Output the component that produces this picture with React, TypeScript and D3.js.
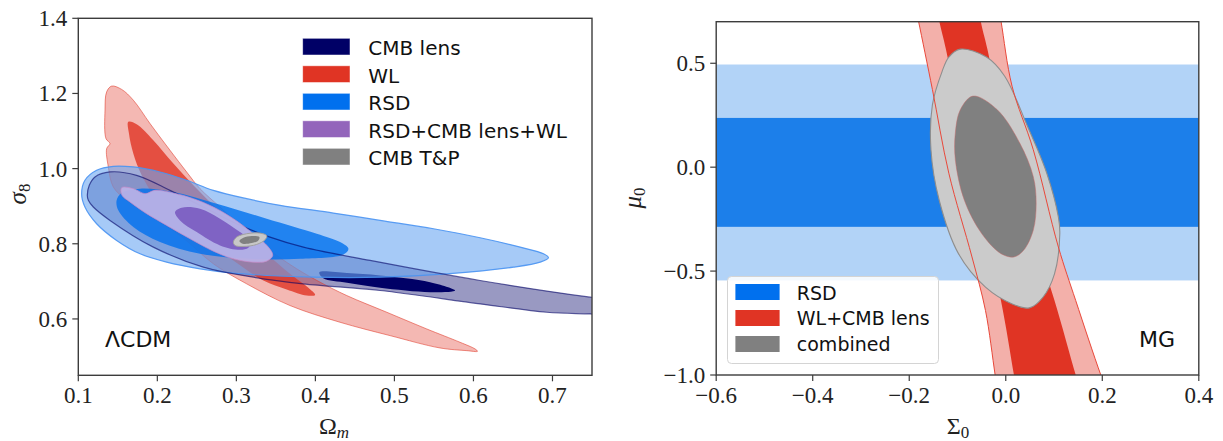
import React from 'react';
import * as d3 from 'd3';

type P = [number, number];

// ---------- Left panel (LCDM): Omega_m vs sigma_8 ----------
const leftXTicks = [0.1, 0.2, 0.3, 0.4, 0.5, 0.6, 0.7];
const leftYTicks = [0.6, 0.8, 1.0, 1.2, 1.4];

const cmbLensOuter: P[] = [
  [0.1114, 0.9289], [0.1139, 0.9556], [0.1211, 0.9778], [0.1401, 0.9911], [0.1738, 0.9822],
  [0.2160, 0.9422], [0.2582, 0.8978], [0.3004, 0.8533], [0.3426, 0.8178], [0.3848, 0.7911],
  [0.4692, 0.7556], [0.6084, 0.7022], [0.7477, 0.6578], [0.8025, 0.6444], [0.8025, 0.6089],
  [0.7477, 0.6133], [0.6928, 0.6178], [0.6084, 0.6400], [0.4819, 0.6756], [0.3848, 0.6933],
  [0.3215, 0.7111], [0.2582, 0.7378], [0.1949, 0.7911], [0.1401, 0.8622], [0.1190, 0.8978],
  [0.1127, 0.9156],
];
const cmbLensInner: P[] = [
  [0.405, 0.724], [0.440, 0.722], [0.4819, 0.7156], [0.5451, 0.6978],
  [0.5768, 0.6756], [0.5451, 0.6711], [0.4819, 0.6827], [0.440, 0.696], [0.410, 0.708],
];
const wlOuter: P[] = [
  [0.1422, 1.2196], [0.1549, 1.2107], [0.1696, 1.1822], [0.1907, 1.1200], [0.2160, 1.0489],
  [0.2371, 0.9911], [0.2540, 0.9467], [0.2793, 0.8978], [0.3089, 0.8400], [0.3426, 0.7822],
  [0.3764, 0.7333], [0.4059, 0.6978], [0.4397, 0.6622], [0.4903, 0.6178], [0.5409, 0.5733],
  [0.5831, 0.5378], [0.6021, 0.5200], [0.6051, 0.5138], [0.5916, 0.5156], [0.5578, 0.5227],
  [0.4945, 0.5556], [0.4312, 0.5911], [0.3679, 0.6356], [0.3131, 0.6933], [0.2709, 0.7467],
  [0.2287, 0.8222], [0.1865, 0.8800], [0.1612, 0.9156], [0.1443, 0.9511], [0.1380, 1.0044],
  [0.1359, 1.0533], [0.1401, 1.0667], [0.1350, 1.0800], [0.1338, 1.1556], [0.1359, 1.2044],
];
const wlInner: P[] = [
  [0.1633, 1.1244], [0.1738, 1.1182], [0.1949, 1.0756], [0.2203, 1.0133], [0.2456, 0.9556],
  [0.2709, 0.9022], [0.3046, 0.8356], [0.3384, 0.7733], [0.3679, 0.7200], [0.3911, 0.6827],
  [0.3996, 0.6640], [0.3890, 0.6622], [0.3637, 0.6782], [0.3342, 0.7022], [0.2962, 0.7556],
  [0.2582, 0.8133], [0.2245, 0.8667], [0.1970, 0.9244], [0.1802, 0.9822], [0.1696, 1.0400],
  [0.1641, 1.0933],
];
const rsdOuter: P[] = [
  [0.1042, 0.9333], [0.1084, 0.9689], [0.1232, 0.9956], [0.1443, 1.0062], [0.1696, 1.0044],
  [0.2034, 0.9911], [0.2371, 0.9689], [0.2709, 0.9422], [0.3131, 0.9200], [0.3553, 0.9022],
  [0.4228, 0.8818], [0.4819, 0.8622], [0.5494, 0.8400], [0.6084, 0.8160], [0.6591, 0.7911],
  [0.6886, 0.7733], [0.6949, 0.7627], [0.6844, 0.7511], [0.6506, 0.7378], [0.5662, 0.7200],
  [0.4819, 0.7111], [0.3975, 0.7111], [0.3384, 0.7156], [0.2962, 0.7218], [0.2540, 0.7333],
  [0.2118, 0.7511], [0.1781, 0.7733], [0.1485, 0.8089], [0.1232, 0.8533], [0.1084, 0.8978],
];
const rsdInner: P[] = [
  [0.1485, 0.9156], [0.1549, 0.9351], [0.1781, 0.9467], [0.2203, 0.9378], [0.2751, 0.9067],
  [0.3384, 0.8667], [0.4017, 0.8267], [0.4312, 0.8044], [0.4418, 0.7867], [0.4354, 0.7716],
  [0.3806, 0.7600], [0.3173, 0.7600], [0.2540, 0.7733], [0.2034, 0.8044], [0.1696, 0.8444],
  [0.1506, 0.8889],
];
const combOuter: P[] = [
  [0.1549, 0.9493], [0.1696, 0.9467], [0.1844, 0.9333], [0.1970, 0.9422], [0.2203, 0.9351],
  [0.2456, 0.9200], [0.2709, 0.8978], [0.2962, 0.8667], [0.3215, 0.8267], [0.3405, 0.7911],
  [0.3460, 0.7689], [0.3384, 0.7538], [0.3215, 0.7511], [0.2962, 0.7600], [0.2709, 0.7804],
  [0.2414, 0.8133], [0.2118, 0.8489], [0.1865, 0.8800], [0.1654, 0.9111], [0.1553, 0.9289],
];
const combInner: P[] = [
  [0.2224, 0.8844], [0.2308, 0.8960], [0.2540, 0.8933], [0.2793, 0.8667], [0.3046, 0.8311],
  [0.3173, 0.8089], [0.3152, 0.7893], [0.3046, 0.7840], [0.2793, 0.7956], [0.2498, 0.8311],
  [0.2287, 0.8622],
];
const cmbTPOuter: P[] = [
  [0.2962, 0.8044], [0.3004, 0.8178], [0.3131, 0.8267], [0.3300, 0.8284], [0.3384, 0.8213],
  [0.3363, 0.8107], [0.3257, 0.7982], [0.3089, 0.7929], [0.2983, 0.7956],
];
const cmbTPInner: P[] = [
  [0.3038, 0.8071], [0.3089, 0.8160], [0.3194, 0.8204], [0.3291, 0.8178], [0.3278, 0.8089],
  [0.3194, 0.8018], [0.3080, 0.8000],
];
const leftLegendLabels = ['CMB lens', 'WL', 'RSD', 'RSD+CMB lens+WL', 'CMB T&P'];

// ---------- Right panel (MG): Sigma_0 vs mu_0 ----------
const rightXTicks = [-0.6, -0.4, -0.2, 0.0, 0.2, 0.4];
const rightYTicks = [-1.0, -0.5, 0.0, 0.5];
const rsdBandOuter: P = [-0.545, 0.494];
const rsdBandInner: P = [-0.287, 0.237];
const wlBandOuterLeft: P[] = [
  [-0.194, 0.85], [-0.181, 0.705], [-0.152, 0.374], [-0.118, -0.029], [-0.070, -0.432],
  [-0.042, -0.690], [-0.022, -1.0], [-0.012, -1.15],
];
const wlBandOuterRight: P[] = [
  [-0.021, 0.85], [-0.010, 0.705], [0.013, 0.390], [0.057, 0.084], [0.109, -0.384],
  [0.145, -0.642], [0.197, -1.0], [0.222, -1.15],
];
const wlBandInnerLeft: P[] = [
  [-0.150, 0.85], [-0.138, 0.705], [-0.124, 0.568], [-0.090, 0.165], [-0.050, -0.239],
  [-0.010, -0.642], [0.017, -1.0], [0.028, -1.15],
];
const wlBandInnerRight: P[] = [
  [-0.060, 0.85], [-0.052, 0.705], [-0.038, 0.568], [-0.0025, 0.165], [0.045, -0.239],
  [0.101, -0.642], [0.145, -1.0], [0.165, -1.15],
];
const mgCombOuter: P[] = [
  [-0.094, 0.568], [-0.040, 0.530], [-0.0025, 0.439], [0.045, 0.197], [0.085, -0.029],
  [0.109, -0.239], [0.112, -0.319], [0.101, -0.513], [0.077, -0.626], [0.049, -0.677],
  [0.0135, -0.658], [-0.042, -0.577], [-0.098, -0.416], [-0.138, -0.158], [-0.155, 0.084],
  [-0.152, 0.300], [-0.132, 0.460], [-0.118, 0.530],
];
const mgCombInner: P[] = [
  [-0.068, 0.342], [-0.018, 0.277], [0.029, 0.116], [0.057, -0.045], [0.063, -0.174],
  [0.057, -0.303], [0.037, -0.400], [0.017, -0.432], [-0.010, -0.416], [-0.050, -0.319],
  [-0.086, -0.158], [-0.1045, 0.036], [-0.1045, 0.165], [-0.094, 0.277],
];
const rightLegendLabels = ['RSD', 'WL+CMB lens', 'combined'];

// ---------- styles ----------
const SPINE = '#3c3c3c';
const leftLegendColors = ['#000066', '#e03424', '#0070ee', '#9365bb', '#808080'];
const rightLegendColors = ['#0070ee', '#e03424', '#808080'];

const serifStyle: React.CSSProperties = { fontFamily: 'Liberation Serif' };
const sansStyle: React.CSSProperties = { fontFamily: 'DejaVu Sans' };

export default function App() {
  const fmt = d3.format('.1f');
  const lx = d3.scaleLinear().domain([0.1, 0.75]).range([78.3, 592]);
  const ly = d3.scaleLinear().domain([0.45, 1.4]).range([375.3, 18.3]);
  const rx = d3.scaleLinear().domain([-0.6, 0.4]).range([716.2, 1198.8]);
  const ry = d3.scaleLinear().domain([-1.0, 0.7]).range([375, 21.7]);

  const closedL = d3.line<P>().x(d => lx(d[0])).y(d => ly(d[1])).curve(d3.curveCatmullRomClosed.alpha(0.5));
  const closedR = d3.line<P>().x(d => rx(d[0])).y(d => ry(d[1])).curve(d3.curveCatmullRomClosed.alpha(0.5));
  const openR = d3.line<P>().x(d => rx(d[0])).y(d => ry(d[1])).curve(d3.curveCatmullRom.alpha(0.5));
  const band = (left: P[], right: P[]) =>
    (openR(left) as string) + (openR([...right].reverse()) as string).replace(/^M/, 'L') + 'Z';

  const L = { x0: lx(0.1), x1: lx(0.75), y0: ly(1.4), y1: ly(0.45) };
  const R = { x0: rx(-0.6), x1: rx(0.4), y0: ry(0.7), y1: ry(-1.0) };

  const tickLen = 6;

  return (
    <svg width={1223} height={441} style={{ position: 'absolute', left: 0, top: 0, background: '#fff' }}>
      <defs>
        <clipPath id="clipL"><rect x={L.x0} y={L.y0} width={L.x1 - L.x0} height={L.y1 - L.y0} /></clipPath>
        <clipPath id="clipR"><rect x={R.x0} y={R.y0} width={R.x1 - R.x0} height={R.y1 - R.y0} /></clipPath>
      </defs>

      {/* ---------------- Left panel ---------------- */}
      <g clipPath="url(#clipL)">
        <path d={closedL(cmbLensOuter) as string} fill="#000066" fillOpacity={0.4} />
        <path d={closedL(cmbLensInner) as string} fill="#000066" />
        <path d={closedL(wlOuter) as string} fill="#e03424" fillOpacity={0.35} stroke="#e03424" strokeOpacity={0.55} strokeWidth={1} />
        <path d={closedL(wlInner) as string} fill="#e03424" fillOpacity={0.8} />
        <path d={closedL(rsdOuter) as string} fill="#6aa6f2" fillOpacity={0.6} stroke="#4a94f2" strokeOpacity={0.9} strokeWidth={1.2} />
        <path d={closedL(rsdInner) as string} fill="#0070ee" fillOpacity={0.8} />
        <path d={closedL(cmbLensOuter) as string} fill="none" stroke="#000066" strokeOpacity={0.6} strokeWidth={1.2} />
        <path d={closedL(combOuter) as string} fill="#b9b1e6" fillOpacity={0.95} stroke="#c98bc9" strokeOpacity={0.7} strokeWidth={1} />
        <path d={closedL(combInner) as string} fill="#7f63c4" />
        <path d={closedL(cmbTPOuter) as string} fill="#c8c8c8" stroke="#a0a0a0" strokeWidth={1} />
        <path d={closedL(cmbTPInner) as string} fill="#808080" />
      </g>
      <rect x={L.x0} y={L.y0} width={L.x1 - L.x0} height={L.y1 - L.y0} fill="none" stroke={SPINE} strokeWidth={1.4} />
      {leftXTicks.map(t => (
        <g key={'lx' + t}>
          <line x1={lx(t)} x2={lx(t)} y1={L.y1} y2={L.y1 + tickLen} stroke={SPINE} strokeWidth={1.2} />
          <text x={lx(t)} y={L.y1 + 28} textAnchor="middle" style={serifStyle} fontSize={23} fill="#222">{fmt(t)}</text>
        </g>
      ))}
      {leftYTicks.map(t => (
        <g key={'ly' + t}>
          <line x1={L.x0 - tickLen} x2={L.x0} y1={ly(t)} y2={ly(t)} stroke={SPINE} strokeWidth={1.2} />
          <text x={L.x0 - 11} y={ly(t) + 8} textAnchor="end" style={serifStyle} fontSize={23} fill="#222">{fmt(t)}</text>
        </g>
      ))}
      <text x={334} y={433.5} textAnchor="middle" style={serifStyle} fontSize={24} fill="#222">
        <tspan>Ω</tspan><tspan fontStyle="italic" fontSize={17} dy={4}>m</tspan>
      </text>
      <text transform={`translate(26,194) rotate(-90)`} textAnchor="middle" style={serifStyle} fontSize={25} fill="#222">
        <tspan fontStyle="italic">σ</tspan><tspan fontSize={17} dy={4}>8</tspan>
      </text>
      <text x={105} y={346.5} style={sansStyle} fontSize={22} fill="#111">ΛCDM</text>
      {leftLegendLabels.map((lab, i) => (
        <g key={'ll' + i}>
          <rect x={302.7} y={38.3 + i * 27.5} width={47.3} height={16.7} fill={leftLegendColors[i]} stroke="#fff" strokeOpacity={0.6} strokeWidth={0.8} />
          <text x={368.3} y={55 + i * 27.5} style={sansStyle} fontSize={20} fill="#111">{lab}</text>
        </g>
      ))}

      {/* ---------------- Right panel ---------------- */}
      <g clipPath="url(#clipR)">
        <rect x={R.x0} y={ry(rsdBandOuter[1])} width={R.x1 - R.x0} height={ry(rsdBandOuter[0]) - ry(rsdBandOuter[1])} fill="#b2d3f7" />
        <rect x={R.x0} y={ry(rsdBandInner[1])} width={R.x1 - R.x0} height={ry(rsdBandInner[0]) - ry(rsdBandInner[1])} fill="#1c7fea" />
        <path d={band(wlBandOuterLeft, wlBandOuterRight)} fill="#f3b0aa" />
        <path d={band(wlBandInnerLeft, wlBandInnerRight)} fill="#e03424" />
        <path d={closedR(mgCombOuter) as string} fill="#cbcbcb" stroke="#8e8e8e" strokeWidth={1.1} />
        <path d={openR(wlBandOuterLeft) as string} fill="none" stroke="#e8483a" strokeWidth={1} />
        <path d={openR(wlBandOuterRight) as string} fill="none" stroke="#e8483a" strokeWidth={1} />
        <path d={closedR(mgCombInner) as string} fill="#808080" stroke="#c86a6a" strokeOpacity={0.6} strokeWidth={0.8} />
      </g>
      <rect x={R.x0} y={R.y0} width={R.x1 - R.x0} height={R.y1 - R.y0} fill="none" stroke={SPINE} strokeWidth={1.4} />
      {rightXTicks.map(t => (
        <g key={'rx' + t}>
          <line x1={rx(t)} x2={rx(t)} y1={R.y1} y2={R.y1 + tickLen} stroke={SPINE} strokeWidth={1.2} />
          <text x={rx(t)} y={R.y1 + 28} textAnchor="middle" style={serifStyle} fontSize={23} fill="#222">{fmt(t)}</text>
        </g>
      ))}
      {rightYTicks.map(t => (
        <g key={'ry' + t}>
          <line x1={R.x0 - tickLen} x2={R.x0} y1={ry(t)} y2={ry(t)} stroke={SPINE} strokeWidth={1.2} />
          <text x={R.x0 - 11} y={ry(t) + 8} textAnchor="end" style={serifStyle} fontSize={23} fill="#222">{fmt(t)}</text>
        </g>
      ))}
      <text x={958} y={433.5} textAnchor="middle" style={serifStyle} fontSize={24} fill="#222">
        <tspan>Σ</tspan><tspan fontSize={17} dy={4}>0</tspan>
      </text>
      <text transform={`translate(641,198) rotate(-90)`} textAnchor="middle" style={serifStyle} fontSize={25} fill="#222">
        <tspan fontStyle="italic">μ</tspan><tspan fontSize={17} dy={4}>0</tspan>
      </text>
      <text x={1175} y={346.5} textAnchor="end" style={sansStyle} fontSize={22} fill="#111">MG</text>
      <rect x={727.5} y={276.5} width={211} height={87} rx={4} fill="#fff" fillOpacity={0.85} stroke="#d4d4d4" strokeWidth={1} />
      {rightLegendLabels.map((lab, i) => (
        <g key={'rl' + i}>
          <rect x={735.4} y={284 + i * 26} width={44.2} height={16} fill={rightLegendColors[i]} />
          <text x={796.8} y={299.5 + i * 25.8} style={sansStyle} fontSize={19} fill="#111">{lab}</text>
        </g>
      ))}
    </svg>
  );
}
